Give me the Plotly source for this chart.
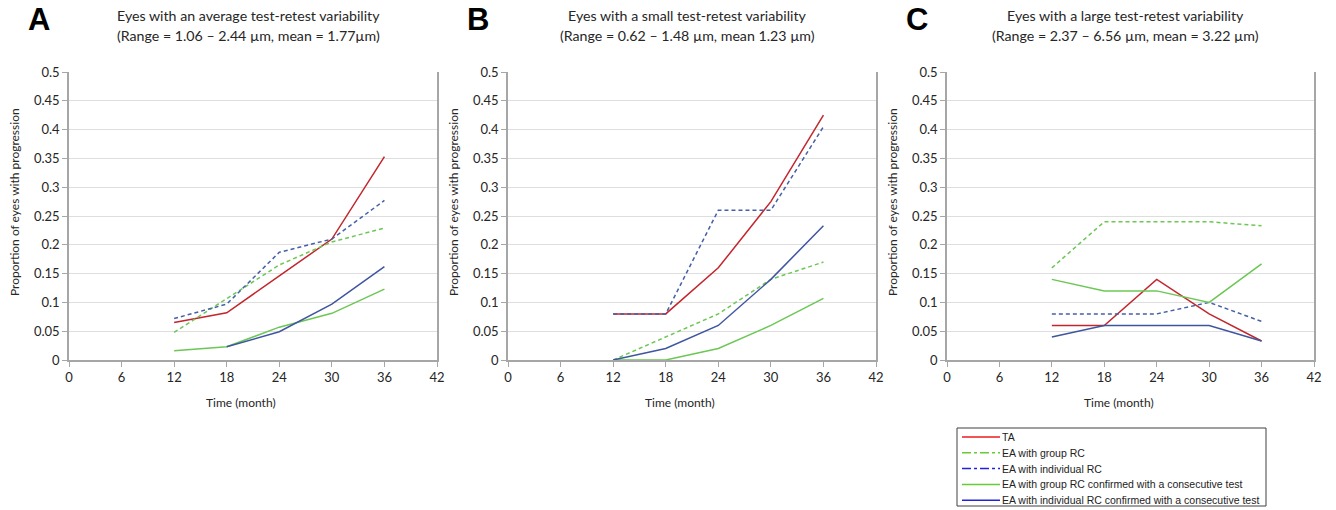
import plotly.graph_objects as go

months = [12, 18, 24, 30, 36]

# Panel A
A_ta = [0.065, 0.082, 0.146, 0.210, 0.353]
A_grp = [0.048, 0.107, 0.165, 0.205, 0.229]
A_ind = [0.072, 0.097, 0.187, 0.210, 0.277]
A_grp_c = [0.016, 0.023, 0.057, 0.081, 0.123]
A_ind_c = [None, 0.023, 0.049, 0.097, 0.162]

# Panel B
B_ta = [0.080, 0.080, 0.160, 0.275, 0.425]
B_grp = [0.000, 0.040, 0.080, 0.140, 0.170]
B_ind = [0.080, 0.080, 0.260, 0.260, 0.405]
B_grp_c = [0.000, 0.000, 0.020, 0.060, 0.107]
B_ind_c = [0.000, 0.020, 0.060, 0.140, 0.233]

# Panel C
C_ta = [0.060, 0.060, 0.140, 0.080, 0.033]
C_grp = [0.160, 0.240, 0.240, 0.240, 0.233]
C_ind = [0.080, 0.080, 0.080, 0.100, 0.067]
C_grp_c = [0.140, 0.120, 0.120, 0.100, 0.167]
C_ind_c = [0.040, 0.060, 0.060, 0.060, 0.033]

series_names = ["TA", "EA with group RC", "EA with individual RC",
                "EA with group RC confirmed with a consecutive test",
                "EA with individual RC confirmed with a consecutive test"]

title_line1 = ["Eyes with an average test-retest variability",
               "Eyes with a small test-retest variability",
               "Eyes with a large test-retest variability"]
title_line2 = ["(Range = 1.06 \u2013 2.44 \u00b5m, mean = 1.77\u00b5m)",
               "(Range = 0.62 \u2013 1.48 \u00b5m, mean 1.23 \u00b5m)",
               "(Range = 2.37 \u2013 6.56 \u00b5m, mean = 3.22 \u00b5m)"]
letters = ["A", "B", "C"]

x_ticks = [0, 6, 12, 18, 24, 30, 36, 42]
y_ticks = [0, 0.05, 0.1, 0.15, 0.2, 0.25, 0.3, 0.35, 0.4, 0.45, 0.5]
y_tick_text = ["0", "0.05", "0.1", "0.15", "0.2", "0.25", "0.3", "0.35", "0.4", "0.45", "0.5"]

W, H = 1336, 510
panels_px = [(69, 437), (508, 876), (947, 1314)]
ytop, ybot = 72, 360

plot_colors = ["#c3262c", "#6cc755", "#4560a6", "#6cc755", "#3f55a0"]
plot_dash = ["solid", "4px,3px", "4px,3px", "solid", "solid"]
legend_colors = ["#ee1c1c", "#66cc33", "#2222dd", "#66cc33", "#2222dd"]
legend_dash = ["solid", "dashdot", "dashdot", "solid", "solid"]

data = [[A_ta, A_grp, A_ind, A_grp_c, A_ind_c],
        [B_ta, B_grp, B_ind, B_grp_c, B_ind_c],
        [C_ta, C_grp, C_ind, C_grp_c, C_ind_c]]

fig = go.Figure()
font_main = "Lato, 'Open Sans', sans-serif"
txt_col = "#262626"

def px_x(v):
    return v / W

def px_y(v):
    return 1 - v / H

annotations = []
shapes = []
for p in range(3):
    xa = "x" if p == 0 else f"x{p+1}"
    ya = "y" if p == 0 else f"y{p+1}"
    for s in range(5):
        fig.add_trace(go.Scatter(x=months, y=data[p][s], mode="lines", name=series_names[s],
                                 line=dict(color=plot_colors[s], width=1.5, dash=plot_dash[s]),
                                 xaxis=xa, yaxis=ya, showlegend=False,
                                 connectgaps=False))
    x0, x1 = panels_px[p]
    axkey = "xaxis" if p == 0 else f"xaxis{p+1}"
    aykey = "yaxis" if p == 0 else f"yaxis{p+1}"
    fig.update_layout(**{
        axkey: dict(domain=[px_x(x0), px_x(x1)], range=[0, 42], tickvals=x_ticks, ticks="outside",
                    ticklen=5, tickcolor="#a6a6a6", showgrid=False, zeroline=False,
                    showline=True, linecolor="#a6a6a6", linewidth=1.5, mirror=False,
                    anchor=ya, tickfont=dict(size=13, color=txt_col, family=font_main),
                    fixedrange=True),
        aykey: dict(domain=[px_y(ybot), px_y(ytop)], range=[0, 0.5], tickvals=y_ticks,
                    ticktext=y_tick_text, ticks="outside", ticklen=5, tickcolor="#a6a6a6",
                    showgrid=True, gridcolor="#dedede", gridwidth=1, zeroline=False,
                    showline=True, linecolor="#a6a6a6", linewidth=1.5, mirror=True,
                    anchor=xa, tickfont=dict(size=13, color=txt_col, family=font_main),
                    fixedrange=True),
    })
    cx = (x0 + x1) / 2
    annotations.append(dict(text=title_line1[p], x=px_x(cx - 5), y=px_y(15), xref="paper", yref="paper",
                            showarrow=False, font=dict(size=14.2, color=txt_col, family=font_main),
                            xanchor="center", yanchor="middle"))
    annotations.append(dict(text=title_line2[p], x=px_x(cx - 5), y=px_y(36), xref="paper", yref="paper",
                            showarrow=False, font=dict(size=14.2, color=txt_col, family=font_main),
                            xanchor="center", yanchor="middle"))
    annotations.append(dict(text="<b>" + letters[p] + "</b>", x=px_x(x0 - 30), y=px_y(20),
                            xref="paper", yref="paper", showarrow=False,
                            font=dict(size=31, color="#000000", family="Liberation Sans, Arial"),
                            xanchor="center", yanchor="middle"))
    annotations.append(dict(text="Time (month)", x=px_x(cx - 12), y=px_y(402), xref="paper",
                            yref="paper", showarrow=False,
                            font=dict(size=12, color=txt_col, family=font_main),
                            xanchor="center", yanchor="middle"))
    annotations.append(dict(text="Proportion of eyes with progression", x=px_x(x0 - 54),
                            y=px_y(202), xref="paper", yref="paper", showarrow=False,
                            textangle=-90, font=dict(size=12, color=txt_col, family=font_main),
                            xanchor="center", yanchor="middle"))

# manual legend
lx0, lx1, ly0, ly1 = 957, 1266, 428, 506
shapes.append(dict(type="rect", xref="paper", yref="paper", x0=px_x(lx0), x1=px_x(lx1),
                   y0=px_y(ly1), y1=px_y(ly0), line=dict(color="#404040", width=1),
                   fillcolor="white", layer="above"))
for s in range(5):
    yy = 437 + s * 15.8
    shapes.append(dict(type="line", xref="paper", yref="paper", x0=px_x(962), x1=px_x(1000),
                       y0=px_y(yy), y1=px_y(yy),
                       line=dict(color=legend_colors[s], width=1.5, dash=legend_dash[s]),
                       layer="above"))
    annotations.append(dict(text=series_names[s], x=px_x(1000), y=px_y(yy), xref="paper",
                            yref="paper", showarrow=False, xanchor="left", yanchor="middle",
                            font=dict(size=10.5, color="#222222", family="Liberation Sans, Arial")))

fig.update_layout(
    width=W, height=H, margin=dict(l=0, r=0, t=0, b=0, pad=0, autoexpand=False),
    paper_bgcolor="white", plot_bgcolor="white",
    annotations=annotations, shapes=shapes,
    showlegend=False,
)

fig.write_html("out.html", config={"displayModeBar": False},
               post_script="document.body.style.margin='0';document.body.style.overflow='hidden';")
